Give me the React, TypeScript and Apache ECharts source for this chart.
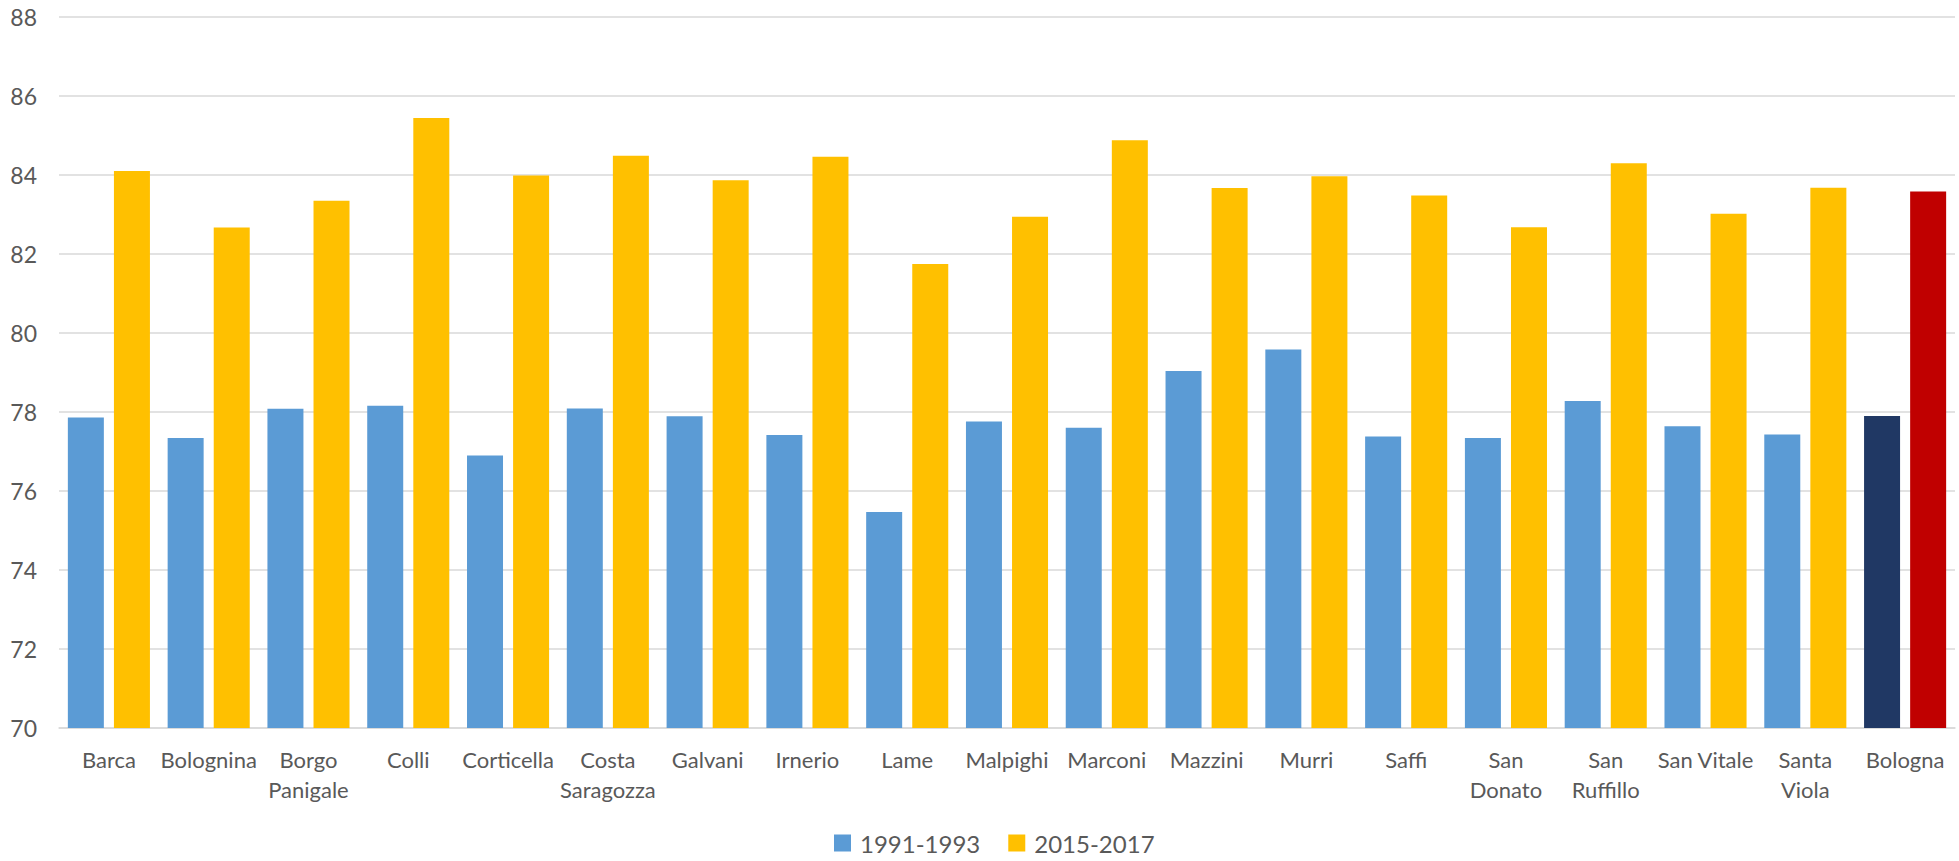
import React, { useEffect, useRef } from "react";
import * as echarts from "echarts";

// Quartieri di Bologna: speranza di vita alla nascita
const categories = [
  "Barca", "Bolognina", "Borgo\nPanigale", "Colli", "Corticella", "Costa\nSaragozza",
  "Galvani", "Irnerio", "Lame", "Malpighi", "Marconi", "Mazzini", "Murri", "Saffi",
  "San\nDonato", "San\nRuffillo", "San Vitale", "Santa\nViola", "Bologna",
];

const period1Name = "1991-1993";
const period2Name = "2015-2017";

const period1 = [
  77.86, 77.34, 78.08, 78.16, 76.9, 78.09, 77.89, 77.42, 75.47, 77.76,
  77.6, 79.04, 79.58, 77.38, 77.34, 78.28, 77.64, 77.43, 77.9,
];
const period2 = [
  84.1, 82.67, 83.35, 85.44, 83.99, 84.49, 83.87, 84.46, 81.75, 82.94,
  84.88, 83.67, 83.97, 83.48, 82.68, 84.3, 83.02, 83.68, 83.58,
];

const yMin = 70;
const yMax = 88;
const yStep = 2;

const BLUE = "#5B9BD5";
const GOLD = "#FFC000";
const NAVY = "#203864";
const RED = "#C00000";
const TEXT = "#595959";
const GRID = "#D9D9D9";
const FONT = "Lato, 'Open Sans', sans-serif";

const totalIndex = categories.length - 1;

export default function App() {
  const ref = useRef<HTMLDivElement>(null);

  useEffect(() => {
    if (!ref.current) return;
    const chart = echarts.init(ref.current, null, { renderer: "svg" });

    const withTotal = (values: number[], color: string) =>
      values.map((v, i) => (i === totalIndex ? { value: v, itemStyle: { color } } : v));

    chart.setOption({
      animation: false,
      backgroundColor: "#ffffff",
      textStyle: { fontFamily: FONT },
      grid: { left: 59, right: 4, top: 17, bottom: 133, containLabel: false },
      legend: {
        left: 829,
        top: 826,
        icon: "rect",
        itemWidth: 17,
        itemHeight: 17,
        itemGap: 28,
        textStyle: { color: TEXT, fontSize: 24, fontFamily: FONT, padding: [0, 0, 0, 4] },
        data: [period1Name, period2Name],
      },
      xAxis: {
        type: "category",
        data: categories,
        axisLine: { show: true, lineStyle: { color: GRID, width: 1.5 } },
        axisTick: { show: false },
        axisLabel: {
          color: TEXT,
          fontSize: 22,
          fontFamily: FONT,
          lineHeight: 30,
          margin: 16,
          interval: 0,
        },
      },
      yAxis: {
        type: "value",
        min: yMin,
        max: yMax,
        interval: yStep,
        axisLine: { show: false },
        axisTick: { show: false },
        splitLine: { lineStyle: { color: GRID, width: 1.5 } },
        axisLabel: { color: TEXT, fontSize: 23, fontFamily: FONT, margin: 22 },
      },
      series: [
        {
          name: period1Name,
          type: "bar",
          barWidth: 36,
          barGap: "28%",
          itemStyle: { color: BLUE },
          data: withTotal(period1, NAVY),
        },
        {
          name: period2Name,
          type: "bar",
          barWidth: 36,
          barGap: "28%",
          itemStyle: { color: GOLD },
          data: withTotal(period2, RED),
        },
      ],
    });

    return () => chart.dispose();
  }, []);

  return (
    <div
      ref={ref}
      style={{ position: "fixed", left: 0, top: 0, width: 1959, height: 861 }}
    />
  );
}
